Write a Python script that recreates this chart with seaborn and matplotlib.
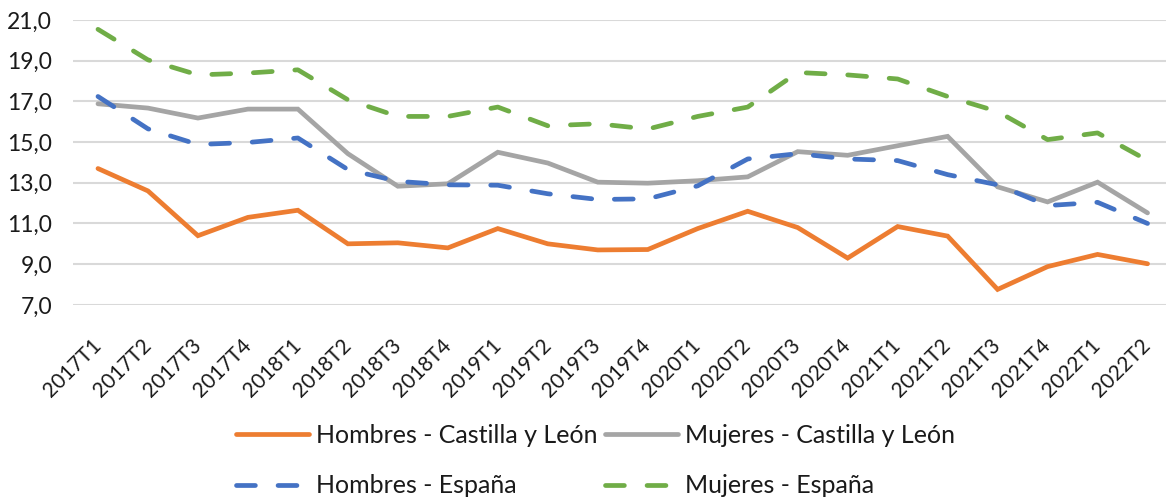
import numpy as np
import pandas as pd
import matplotlib
matplotlib.use("Agg")
import matplotlib.pyplot as plt
import seaborn as sns

# trimestres
trimestres = ["2017T1", "2017T2", "2017T3", "2017T4", "2018T1", "2018T2", "2018T3", "2018T4",
              "2019T1", "2019T2", "2019T3", "2019T4", "2020T1", "2020T2", "2020T3", "2020T4",
              "2021T1", "2021T2", "2021T3", "2021T4", "2022T1", "2022T2"]

hombres_cyl = [13.7, 12.6, 10.4, 11.3, 11.65, 10.0, 10.05, 9.8, 10.75, 10.0, 9.7, 9.72,
               10.75, 11.6, 10.8, 9.3, 10.85, 10.38, 7.76, 8.88, 9.48, 9.02]
mujeres_cyl = [16.88, 16.67, 16.18, 16.62, 16.62, 14.43, 12.83, 12.95, 14.5, 13.97, 13.03, 12.98,
               13.1, 13.29, 14.53, 14.35, 14.82, 15.28, 12.8, 12.06, 13.03, 11.52]
hombres_esp = [17.24, 15.65, 14.88, 14.98, 15.2, 13.65, 13.07, 12.9, 12.88, 12.46, 12.18, 12.21,
               12.85, 14.17, 14.43, 14.17, 14.09, 13.4, 12.9, 11.88, 12.04, 11.0]
mujeres_esp = [20.54, 19.04, 18.3, 18.39, 18.55, 17.08, 16.26, 16.26, 16.72, 15.8, 15.9, 15.64,
               16.26, 16.72, 18.42, 18.3, 18.1, 17.24, 16.5, 15.12, 15.45, 14.1]

series = {
    "Hombres - Castilla y León": (hombres_cyl, "#ED7D31", "-"),
    "Mujeres - Castilla y León": (mujeres_cyl, "#A5A5A5", "-"),
    "Hombres - España": (hombres_esp, "#4472C4", (0, (4.0, 4.8))),
    "Mujeres - España": (mujeres_esp, "#70AD47", (0, (4.0, 4.8))),
}

sns.set_theme(style="white")
plt.rcParams["font.family"] = ["Lato", "DejaVu Sans"]

fig = plt.figure(figsize=(11.66, 4.99), dpi=100)
ax = fig.add_axes([0.0626, 0.389, 0.943, 0.571])

for nombre, (valores, color, estilo) in series.items():
    df = pd.DataFrame({"trimestre": trimestres, "tasa": valores})
    sns.lineplot(data=df, x="trimestre", y="tasa", ax=ax, color=color, lw=3.4,
                 linestyle=estilo, label=nombre, sort=False)
    ln = ax.lines[-1]
    ln.set_dash_capstyle("round")
    ln.set_solid_capstyle("round")
    ln.set_solid_joinstyle("miter")

ax.set_ylim(7, 21)
ax.set_xlim(-0.5, len(trimestres) - 0.5)
ax.set_yticks(np.arange(7, 22, 2))
ax.set_yticklabels([f"{v:.1f}".replace(".", ",") for v in np.arange(7, 22, 2)])
ax.set_xticks(range(len(trimestres)))
ax.set_xticklabels(trimestres, rotation=45, ha="right", va="center", rotation_mode="anchor")
ax.tick_params(axis="y", length=0, pad=15, labelsize=16.5, labelcolor="#1a1a1a")
ax.tick_params(axis="x", length=0, pad=27, labelsize=15, labelcolor="#1a1a1a")
ax.set_xlabel("")
ax.set_ylabel("")
ax.grid(axis="y", color="#D9D9D9", lw=1.5)
ax.grid(axis="x", visible=False)
sns.despine(ax=ax, left=True, bottom=True)

handles, labels = ax.get_legend_handles_labels()
ax.get_legend().remove()
orden = [0, 2, 1, 3]
leg = fig.legend([handles[i] for i in orden], [labels[i] for i in orden], loc="center",
                 bbox_to_anchor=(0.511, 0.077), ncol=2, frameon=False, fontsize=18,
                 handlelength=2.9, handletextpad=0.3, columnspacing=0.3, labelspacing=1.1)
for t in leg.get_texts():
    t.set_color("#1a1a1a")

fig.savefig("out.png", dpi=100)
